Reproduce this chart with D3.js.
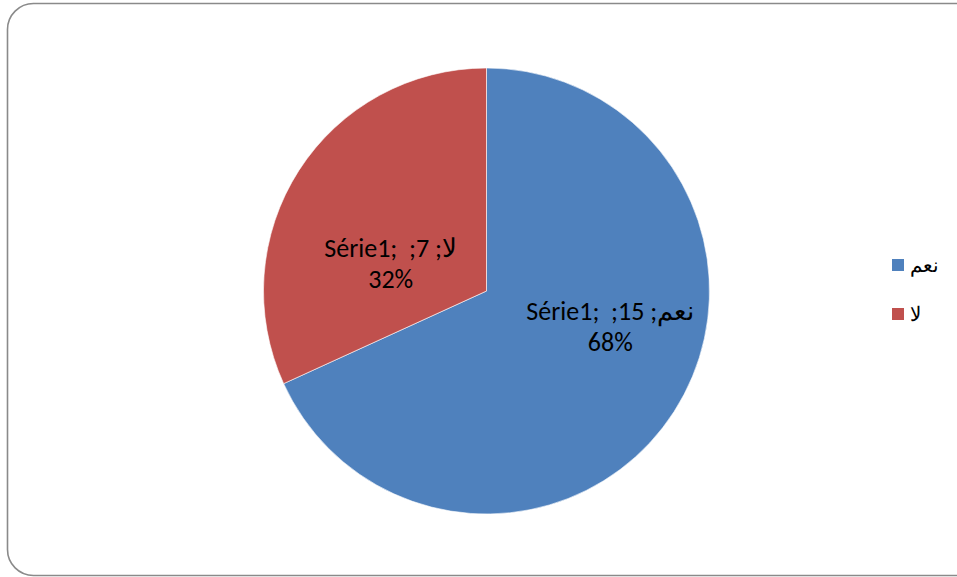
<!DOCTYPE html>
<html>
<head>
<meta charset="utf-8">
<script src="https://cdn.jsdelivr.net/npm/d3@7"></script>
<style>
  html, body { margin: 0; padding: 0; background: #ffffff; }
  svg { display: block; }
  text { font-family: Carlito, Calibri, "Liberation Sans", Arial, sans-serif; white-space: pre; }
</style>
</head>
<body>
<svg id="chart" width="957" height="577"></svg>
<script>
// Survey answers: yes / no
const categories = ["نعم", "لا"];
const values = [15, 7];
const seriesName = "Série1";
const colors = ["#4F81BD", "#C0504D"];

const width = 957, height = 577;
const svg = d3.select("#chart");

// Rounded chart-area frame
svg.append("rect")
  .attr("x", 7.5).attr("y", 3.5)
  .attr("width", 975).attr("height", 572)
  .attr("rx", 26).attr("ry", 26)
  .attr("fill", "#ffffff")
  .attr("stroke", "#8a8a8a")
  .attr("stroke-width", 1.6);

const cx = 486.5, cy = 291, radius = 223;
const total = d3.sum(values);

const pie = d3.pie().sort(null).value(d => d.value)
  .startAngle(0).endAngle(2 * Math.PI);
const data = categories.map((c, i) => ({ cat: c, value: values[i], color: colors[i] }));
const arcs = pie(data);

const arc = d3.arc().innerRadius(0).outerRadius(radius);

const g = svg.append("g").attr("transform", `translate(${cx},${cy})`);

g.selectAll("path.slice")
  .data(arcs)
  .join("path")
  .attr("class", "slice")
  .attr("d", arc)
  .attr("fill", d => d.data.color)
  .attr("stroke", "#ffffff")
  .attr("stroke-width", 0.6);

// Label nudges relative to each slice centroid
const labelShift = [[30, -31], [-2, 26]];
const pct = d3.format(".0%");

const labels = g.selectAll("text.lbl")
  .data(arcs)
  .join("text")
  .attr("class", "lbl")
  .attr("text-anchor", "middle")
  .attr("font-size", 26)
  .attr("fill", "#000000")
  .attr("transform", (d, i) => {
    const [x, y] = arc.centroid(d);
    return `translate(${x + labelShift[i][0]},${y + labelShift[i][1]})`;
  });

labels.append("tspan")
  .attr("x", 0).attr("y", 0)
  .text(d => `${seriesName};  ;${d.data.value} ;${d.data.cat}`);
labels.append("tspan")
  .attr("x", 0).attr("y", 31)
  .text(d => pct(d.data.value / total));

// Legend
const legend = svg.append("g").attr("transform", "translate(892,259)");
const item = legend.selectAll("g")
  .data(data)
  .join("g")
  .attr("transform", (d, i) => `translate(0,${i * 49})`);
item.append("rect")
  .attr("width", 12).attr("height", 12)
  .attr("fill", d => d.color);
item.append("text")
  .attr("x", 18).attr("y", 13)
  .attr("font-size", 20)
  .attr("fill", "#000")
  .text(d => d.cat);
</script>
</body>
</html>
